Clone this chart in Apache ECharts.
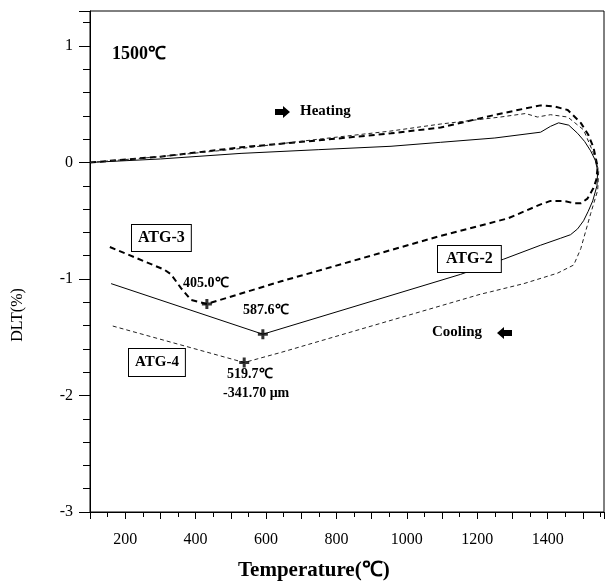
<!DOCTYPE html>
<html>
<head>
<meta charset="utf-8">
<script src="https://cdn.jsdelivr.net/npm/echarts@6/dist/echarts.min.js"></script>
<style>
  * { margin: 0; padding: 0; }
  body { background: #fff; }
  #main { width: 607px; height: 586px; }
</style>
</head>
<body>
<div id="main"></div>
<script>
// [温度, DLT%]，先升温后降温
var atg2 = [
  [100, 0], [300, 0.03], [529, 0.078], [750, 0.11], [955, 0.139], [1096, 0.173],
  [1250, 0.21], [1380, 0.26], [1408, 0.31], [1431, 0.34], [1460, 0.32], [1485, 0.25],
  [1505, 0.18], [1522, 0.10], [1535, 0.02], [1542, -0.07],
  [1540, -0.2], [1528, -0.33], [1515, -0.42], [1502, -0.50], [1485, -0.57], [1465, -0.62],
  [1437, -0.65], [1380, -0.71], [1275, -0.83], [1153, -0.96], [591, -1.474], [160, -1.04]
]
var atg3 = [
  [100, 0], [300, 0.05], [529, 0.13], [750, 0.19], [955, 0.25], [1096, 0.30],
  [1238, 0.40], [1315, 0.45], [1380, 0.49], [1420, 0.48], [1457, 0.45], [1494, 0.34],
  [1515, 0.24], [1530, 0.13], [1542, -0.04],
  [1538, -0.15], [1530, -0.22], [1513, -0.31], [1495, -0.35], [1475, -0.35], [1445, -0.33],
  [1408, -0.33], [1380, -0.36], [1287, -0.48], [1096, -0.63], [643, -1.02], [432, -1.214],
  [387, -1.18], [359, -1.08], [330, -0.96], [311, -0.92], [152, -0.72]
]
var atg4 = [
  [100, 0], [300, 0.05], [529, 0.12], [750, 0.20], [955, 0.27], [1096, 0.33],
  [1266, 0.39], [1337, 0.42], [1371, 0.39], [1408, 0.41], [1457, 0.39], [1502, 0.28],
  [1530, 0.08], [1545, -0.07],
  [1542, -0.24], [1522, -0.44], [1494, -0.74], [1474, -0.88], [1428, -0.95], [1332, -1.04],
  [1238, -1.11], [1210, -1.13], [643, -1.63], [538, -1.717], [160, -1.40]
]
// 最低点 +
var minPoints = [[432, -1.214], [591, -1.474], [538, -1.717]]
var xLabels = [200, 400, 600, 800, 1000, 1200, 1400]
var yLabels = [-3, -2, -1, 0, 1]

var serif = 'Liberation Serif'
var chart = echarts.init(document.getElementById('main'))

chart.setOption({
  animation: false,
  grid: {
    left: 90,
    right: 3,
    top: 11,
    bottom: 74,
    show: true,
    borderColor: '#000',
    borderWidth: 1
  },
  xAxis: {
    type: 'value',
    min: 100,
    max: 1560,
    interval: 100,
    axisLine: { onZero: false, lineStyle: { color: '#000', width: 1 } },
    axisTick: { show: true, length: 7, lineStyle: { color: '#000' } },
    minorTick: { show: true, splitNumber: 2, length: 5, lineStyle: { color: '#000' } },
    splitLine: { show: false },
    axisLabel: {
      margin: 20,
      color: '#000',
      fontFamily: serif,
      fontSize: 16,
      formatter: function (v) { return xLabels.indexOf(v) >= 0 ? String(v) : '' }
    }
  },
  yAxis: {
    type: 'value',
    min: -3,
    max: 1.3,
    interval: 1,
    axisLine: { onZero: false, lineStyle: { color: '#000', width: 1 } },
    axisTick: { show: true, length: 11, lineStyle: { color: '#000' } },
    minorTick: { show: true, splitNumber: 5, length: 7, lineStyle: { color: '#000' } },
    splitLine: { show: false },
    axisLabel: {
      margin: 17,
      color: '#000',
      fontFamily: serif,
      fontSize: 16,
      formatter: function (v) { return yLabels.indexOf(v) >= 0 ? String(v) : '' }
    }
  },
  series: [
    {
      name: 'ATG-2', type: 'line', data: atg2, symbol: 'none', smooth: false,
      lineStyle: { color: '#000', width: 1 }
    },
    {
      name: 'ATG-3', type: 'line', data: atg3, symbol: 'none', smooth: false,
      lineStyle: { color: '#000', width: 2, type: [6, 4] }
    },
    {
      name: 'ATG-4', type: 'line', data: atg4, symbol: 'none', smooth: false,
      lineStyle: { color: '#222', width: 1, type: [4, 3] }
    },
    {
      type: 'scatter', data: minPoints, symbolSize: 10,
      symbol: 'path://M3.5,0H6.5V3.5H10V6.5H6.5V10H3.5V6.5H0V3.5H3.5Z',
      itemStyle: { color: '#000' }, z: 5
    }
  ],
  graphic: [
    { type: 'text', left: 112, top: 45, style: { text: '1500℃', font: 'bold 18px "Liberation Serif"', fill: '#000' } },
    { type: 'polygon', shape: { points: [[275, 109], [283, 109], [283, 106], [290, 112], [283, 118], [283, 115], [275, 115]] }, style: { fill: '#000' } },
    { type: 'text', left: 300, top: 104, style: { text: 'Heating', font: 'bold 15px "Liberation Serif"', fill: '#000' } },
    { type: 'text', left: 432, top: 325, style: { text: 'Cooling', font: 'bold 15px "Liberation Serif"', fill: '#000' } },
    { type: 'polygon', shape: { points: [[512, 330], [504, 330], [504, 327], [497, 333], [504, 339], [504, 336], [512, 336]] }, style: { fill: '#000' } },
    { type: 'text', left: 131, top: 224, z: 10, style: { text: 'ATG-3', font: 'bold 16px "Liberation Serif"', fill: '#000', backgroundColor: '#fff', borderColor: '#000', borderWidth: 1, padding: [5, 6, 5, 6] } },
    { type: 'text', left: 437, top: 245, z: 10, style: { text: 'ATG-2', font: 'bold 16px "Liberation Serif"', fill: '#000', backgroundColor: '#fff', borderColor: '#000', borderWidth: 1, padding: [5, 8, 5, 8] } },
    { type: 'text', left: 128, top: 348, z: 10, style: { text: 'ATG-4', font: 'bold 15px "Liberation Serif"', fill: '#000', backgroundColor: '#fff', borderColor: '#000', borderWidth: 1, padding: [6, 6, 6, 6] } },
    { type: 'text', left: 183, top: 276, style: { text: '405.0℃', font: 'bold 14px "Liberation Serif"', fill: '#000' } },
    { type: 'text', left: 243, top: 303, style: { text: '587.6℃', font: 'bold 14px "Liberation Serif"', fill: '#000' } },
    { type: 'text', left: 227, top: 367, style: { text: '519.7℃', font: 'bold 14px "Liberation Serif"', fill: '#000' } },
    { type: 'text', left: 223, top: 386, style: { text: '-341.70 μm', font: 'bold 14px "Liberation Serif"', fill: '#000' } },
    { type: 'text', left: 238, top: 560, style: { text: 'Temperature(℃)', font: 'bold 21px "Liberation Serif"', fill: '#000' } },
    { type: 'text', x: 18, y: 315, rotation: Math.PI / 2, style: { text: 'DLT(%)', font: '16px "Liberation Serif"', fill: '#000', align: 'center', verticalAlign: 'middle' } }
  ]
})
</script>
</body>
</html>
